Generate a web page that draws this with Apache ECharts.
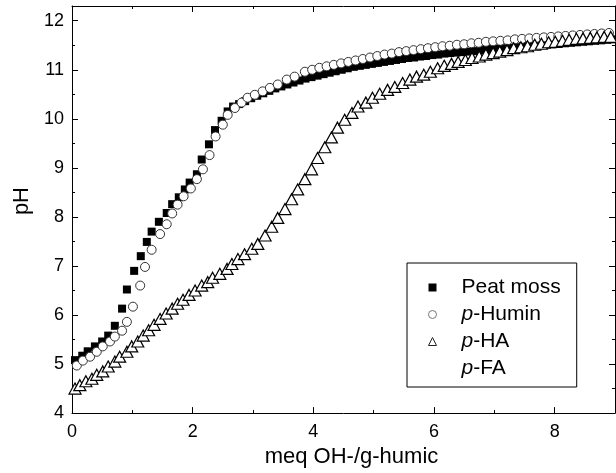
<!DOCTYPE html>
<html>
<head>
<meta charset="utf-8">
<script src="https://cdn.jsdelivr.net/npm/echarts@6/dist/echarts.min.js"></script>
<style>html,body{margin:0;padding:0;background:#fff;}#c{width:616px;height:473px;}</style>
</head>
<body>
<div id="c"></div>
<script>
// ---- data ----
const seriesNames = ['Peat moss', 'p-Humin', 'p-HA', 'p-FA'];
const xTicks = [0, 2, 4, 6, 8];
const yTicks = [4, 5, 6, 7, 8, 9, 10, 11, 12];

const peatX = [0.05,0.17,0.26,0.38,0.50,0.60,0.71,0.83,0.91,1.03,1.14,1.24,1.32,1.44,1.57,1.66,1.77,1.87,1.95,2.07,2.15,2.27,2.37,2.48,2.58,2.67,
  2.77,2.87,2.97,3.07,3.17,3.27,3.37,3.47,3.57,3.67,3.77,3.87,3.97,4.07,4.17,4.27,4.37,4.47,4.57,4.67,4.77,4.87,4.97,5.07,5.17,5.27,5.37,5.47,5.57,5.67,5.77,5.87,5.97,
  6.07,6.17,6.27,6.37,6.47,6.57,6.67,6.77,6.87,6.97,7.07,7.17,7.27,7.37,7.47,7.57,7.67,7.77,7.87,7.97,8.07,8.17,8.27,8.37,8.47,8.57,8.67,8.77,8.87,8.97];
const peatY = [5.08,5.17,5.26,5.36,5.46,5.58,5.78,6.13,6.52,6.90,7.20,7.49,7.70,7.90,8.08,8.26,8.40,8.56,8.70,8.87,9.17,9.48,9.77,9.96,10.15,10.25,
  10.30,10.36,10.42,10.47,10.52,10.57,10.62,10.66,10.70,10.74,10.78,10.82,10.85,10.88,10.91,10.94,10.97,11.00,11.03,11.06,11.08,11.10,11.12,11.14,11.16,11.18,11.20,11.22,11.24,11.25,11.27,11.28,11.30,
  11.31,11.33,11.34,11.35,11.36,11.37,11.38,11.40,11.41,11.42,11.43,11.44,11.45,11.46,11.47,11.48,11.49,11.50,11.51,11.52,11.53,11.54,11.55,11.56,11.57,11.58,11.59,11.60,11.61,11.62];

const huminX = [0.08,0.18,0.30,0.41,0.51,0.63,0.71,0.83,0.91,1.01,1.13,1.21,1.32,1.46,1.57,1.66,1.75,1.85,1.97,2.07,2.17,2.28,2.38,2.50,2.58,2.70,2.81,2.91,3.03,3.16,3.28,3.41,3.56,3.69,3.86,
  3.98,4.10,4.22,4.34,4.46,4.58,4.70,4.82,4.94,5.06,5.18,5.30,5.42,5.54,5.66,5.78,5.90,6.02,6.14,6.26,6.38,6.50,6.62,6.74,6.86,6.98,7.10,7.22,7.34,7.46,7.58,7.70,7.82,7.94,8.06,8.18,8.30,8.42,8.54,8.66,8.78,8.90];
const huminY = [4.97,5.07,5.15,5.25,5.36,5.46,5.56,5.68,5.86,6.17,6.60,6.98,7.33,7.65,7.85,8.07,8.25,8.42,8.58,8.77,8.97,9.26,9.64,9.88,10.08,10.22,10.33,10.43,10.49,10.56,10.63,10.70,10.80,10.86,10.96,
  11.00,11.04,11.07,11.10,11.13,11.16,11.19,11.22,11.25,11.28,11.31,11.33,11.36,11.38,11.40,11.42,11.44,11.46,11.48,11.49,11.51,11.52,11.54,11.55,11.57,11.58,11.59,11.60,11.62,11.63,11.64,11.65,11.66,11.67,11.68,11.69,11.70,11.71,11.72,11.73,11.74,11.75];

const haX = [0.05,0.13,0.23,0.33,0.41,0.51,0.60,0.71,0.79,0.91,0.99,1.09,1.18,1.27,1.36,1.46,1.56,1.66,1.75,1.84,1.94,2.04,2.15,2.25,2.33,2.45,2.57,2.65,2.75,2.86,2.98,3.08,
  3.20,3.31,3.41,3.53,3.64,3.74,3.86,3.97,4.07,4.19,4.30,4.40,4.52,4.64,4.74,4.87,4.98,5.10,5.23,5.35,5.48,5.60,5.71,
  5.83,5.94,6.06,6.17,6.29,6.40,6.52,6.63,6.75,6.86,6.98,7.09,7.21,7.32,7.44,7.55,7.67,7.78,7.90,8.01,8.13,8.24,8.36,8.47,8.59,8.70,8.82,8.93];
const haY = [4.50,4.57,4.65,4.70,4.78,4.85,4.95,5.05,5.15,5.25,5.36,5.46,5.58,5.69,5.80,5.92,6.03,6.13,6.23,6.31,6.41,6.50,6.60,6.67,6.76,6.84,6.94,7.04,7.14,7.24,7.35,7.45,
  7.62,7.80,7.98,8.16,8.36,8.56,8.77,8.97,9.20,9.42,9.62,9.82,9.98,10.12,10.25,10.33,10.43,10.51,10.59,10.65,10.73,10.80,10.86,
  10.90,10.96,11.03,11.08,11.12,11.16,11.20,11.24,11.27,11.31,11.34,11.37,11.40,11.44,11.46,11.48,11.51,11.53,11.56,11.57,11.59,11.61,11.63,11.64,11.65,11.66,11.67,11.67];

const zip = (xs, ys) => xs.map((x, i) => [x, ys[i]]);
const FONT = '"Liberation Sans", Arial, sans-serif';

const chart = echarts.init(document.getElementById('c'), null, {renderer: 'canvas'});

const axisCommon = {
  axisLine: {show: true, onZero: false, lineStyle: {color: '#000', width: 1}},
  axisTick: {show: true, inside: true, length: 6, lineStyle: {color: '#000'}},
  minorTick: {show: true, splitNumber: 2, length: 3, lineStyle: {color: '#000'}},
  splitLine: {show: false},
  minorSplitLine: {show: false}
};

chart.setOption({
  animation: false,
  backgroundColor: '#fff',
  grid: {left: 72, right: 1, top: 6, bottom: 58, containLabel: false},
  xAxis: [
    Object.assign({}, axisCommon, {
      type: 'value', min: 0, max: 9, interval: 2, position: 'bottom',
      name: 'meq OH-/g-humic', nameLocation: 'middle', nameGap: 29,
      nameTextStyle: {fontFamily: FONT, fontSize: 22, color: '#000', padding: [0, 0, 0, 16]},
      axisLabel: {show: true, showMaxLabel: false, margin: 10, fontFamily: FONT, fontSize: 18, color: '#000',
        formatter: v => xTicks.includes(v) ? String(v) : ''}
    }),
    Object.assign({}, axisCommon, {
      type: 'value', min: 0, max: 9, interval: 2, position: 'top', axisLabel: {show: false}
    })
  ],
  yAxis: [
    Object.assign({}, axisCommon, {
      type: 'value', min: 4, max: 12.3, interval: 1, position: 'left',
      name: 'pH', nameLocation: 'middle', nameGap: 37,
      nameTextStyle: {fontFamily: FONT, fontSize: 22, color: '#000', padding: [0, 0, 0, 17]},
      axisLabel: {show: true, showMaxLabel: false, margin: 8, fontFamily: FONT, fontSize: 18, color: '#000',
        formatter: v => yTicks.includes(v) ? String(v) : ''}
    }),
    Object.assign({}, axisCommon, {
      type: 'value', min: 4, max: 12.3, interval: 1, position: 'right', axisLabel: {show: false}
    })
  ],
  legend: {
    orient: 'vertical', left: 407, top: 263,
    borderColor: '#000', borderWidth: 1, backgroundColor: '#fff',
    padding: [14, 16, 8, 21], itemGap: 6, itemWidth: 8, itemHeight: 8,
    selectedMode: false,
    textStyle: {
      fontFamily: FONT, fontSize: 21, color: '#000', lineHeight: 21,
      rich: {
        s: {width: 20, fontSize: 21, lineHeight: 21},
        i: {fontStyle: 'italic', fontFamily: FONT, fontSize: 21, lineHeight: 21, color: '#000'},
        n: {fontFamily: FONT, fontSize: 21, lineHeight: 21, color: '#000'}
      }
    },
    formatter: name => name.startsWith('p-') ? '{s|}{i|p}{n|' + name.slice(1) + '}' : '{s|}{n|' + name + '}',
    data: [
      {name: seriesNames[0], icon: 'rect', itemStyle: {color: '#000', borderWidth: 0}},
      {name: seriesNames[1], icon: 'circle', itemStyle: {color: '#fff', borderColor: '#777', borderWidth: 1}},
      {name: seriesNames[2], icon: 'triangle', itemStyle: {color: '#fff', borderColor: '#222', borderWidth: 1}},
      {name: seriesNames[3], icon: 'none'}
    ]
  },
  series: [
    {
      name: seriesNames[0], type: 'scatter', xAxisIndex: 0, yAxisIndex: 0,
      symbol: 'rect', symbolSize: 8,
      itemStyle: {color: '#000', opacity: 1},
      data: zip(peatX, peatY), z: 2
    },
    {
      name: seriesNames[1], type: 'scatter', xAxisIndex: 0, yAxisIndex: 0,
      symbol: 'circle', symbolSize: 9,
      itemStyle: {color: '#fff', borderColor: '#333', borderWidth: 1, opacity: 1},
      data: zip(huminX, huminY), z: 3
    },
    {
      name: seriesNames[2], type: 'scatter', xAxisIndex: 0, yAxisIndex: 0,
      symbol: 'triangle', symbolSize: [12, 11],
      itemStyle: {color: '#fff', borderColor: '#000', borderWidth: 1.2, opacity: 1},
      data: zip(haX, haY), z: 4
    },
    {
      name: seriesNames[3], type: 'scatter', xAxisIndex: 0, yAxisIndex: 0,
      symbol: 'none', data: []
    }
  ]
});
</script>
</body>
</html>
